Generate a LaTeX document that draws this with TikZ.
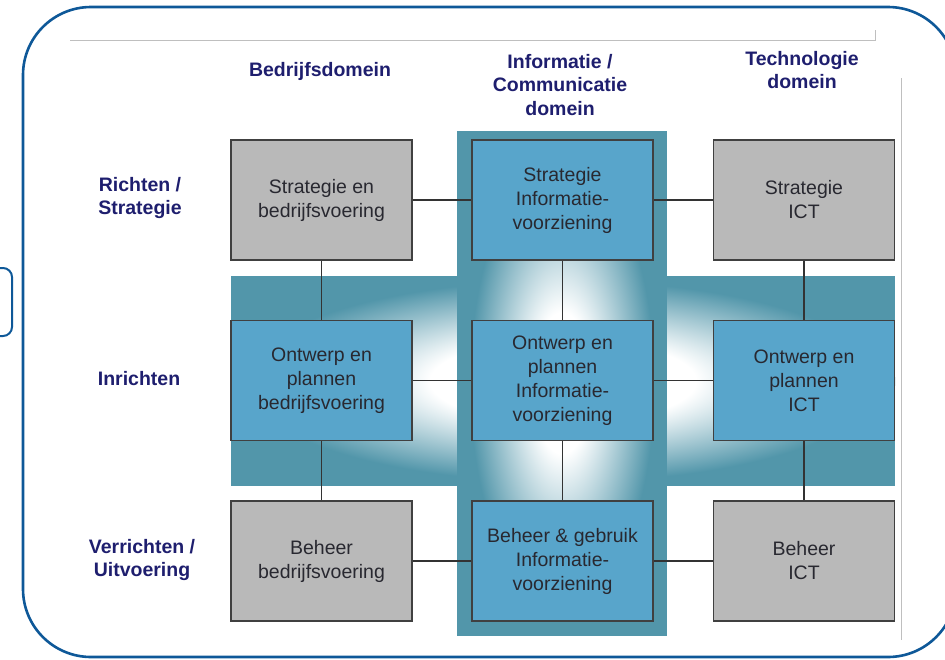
\documentclass[tikz,border=0pt]{standalone}
\usepackage{fontspec}
\setmainfont{Liberation Sans}
\definecolor{frameblue}{RGB}{14,88,152}
\definecolor{bandteal}{RGB}{82,150,170}
\definecolor{boxblue}{RGB}{88,165,203}
\definecolor{boxgray}{RGB}{185,185,185}
\definecolor{headnavy}{RGB}{30,30,110}
\definecolor{boxtext}{RGB}{40,40,48}
\pgfdeclareradialshading{hglow}{\pgfpointorigin}{color(0bp)=(white); color(20bp)=(white); color(48bp)=(bandteal); color(50bp)=(bandteal)}
\pgfdeclareradialshading{vglow}{\pgfpointorigin}{color(0bp)=(white); color(14bp)=(white); color(44bp)=(bandteal); color(50bp)=(bandteal)}
\begin{document}
\begin{tikzpicture}
    [x=1pt,y=-1pt,
     cell/.style={draw=black!75,line width=1.2pt,minimum width=181pt,minimum height=120pt,inner sep=0pt,align=center,text=boxtext,font=\fontsize{19.5}{24}\selectfont},
     graybox/.style={cell,fill=boxgray},
     bluebox/.style={cell,fill=boxblue},
     link/.style={draw=black!80,line width=1.2pt},
     head/.style={align=center,text=headnavy,font=\bfseries\fontsize{19.5}{23.5}\selectfont}]
    \useasboundingbox (0,0) rectangle (945,659);
    \draw[frameblue,line width=2.6pt,rounded corners=68pt] (23,7) rectangle (956,657);
    \draw[frameblue,line width=2pt,rounded corners=9pt] (-30,268) rectangle (12,336);
    \draw[black!25] (70,40) -- (875,40) -- (875,30);
    \draw[black!25] (901,78) -- (901,640);
    % glowing bands behind the middle row and column
    \begin{scope}
      \clip (231,276) rectangle (895,486);
      \fill[bandteal] (231,276) rectangle (895,486);
      \pgftransformshift{\pgfpointxy{563}{381}}
      \pgftransformxscale{6.62}
      \pgftransformyscale{2.09}
      \pgflowlevelsynccm
      \pgfuseshading{hglow}
    \end{scope}
    \begin{scope}
      \clip (457,131) rectangle (667,636);
      \fill[bandteal] (457,131) rectangle (667,636);
      \pgftransformshift{\pgfpointxy{562}{383}}
      \pgftransformxscale{2.09}
      \pgftransformyscale{5.03}
      \pgflowlevelsynccm
      \pgfuseshading{vglow}
    \end{scope}
    \node [head] (hbedrijf) at (320,71) {Bedrijfsdomein};
    \node [head] (hinfo) at (560,85) {Informatie /\\Communicatie\\domein};
    \node [head] (htech) at (802,70) {Technologie\\domein};
    \node [head] (lrichten) at (140,198) {Richten /\\Strategie};
    \node [head] (linrichten) at (139,379) {Inrichten};
    \node [head] (lverrichten) at (142,560) {Verrichten /\\Uitvoering};
    \node [graybox] (sbv) at (321.5,200) {Strategie en\\bedrijfsvoering};
    \node [bluebox] (siv) at (562.5,200) {Strategie\\Informatie-\\voorziening}
      edge [link] (sbv);
    \node [graybox] (sict) at (804,200) {Strategie\\ICT}
      edge [link] (siv);
    \node [bluebox] (obv) at (321.5,380.5) {Ontwerp en\\plannen\\bedrijfsvoering}
      edge [link] (sbv);
    \node [bluebox] (oiv) at (562.5,380.5) {Ontwerp en\\plannen\\Informatie-\\voorziening}
      edge [link] (obv)
      edge [link] (siv);
    \node [bluebox] (oict) at (804,380.5) {Ontwerp en\\plannen\\ICT}
      edge [link] (oiv)
      edge [link] (sict);
    \node [graybox] (bbv) at (321.5,561) {Beheer\\bedrijfsvoering}
      edge [link] (obv);
    \node [bluebox] (biv) at (562.5,561) {Beheer \& gebruik\\Informatie-\\voorziening}
      edge [link] (bbv)
      edge [link] (oiv);
    \node [graybox] (bict) at (804,561) {Beheer\\ICT}
      edge [link] (biv)
      edge [link] (oict);
  \end{tikzpicture}
\end{document}
